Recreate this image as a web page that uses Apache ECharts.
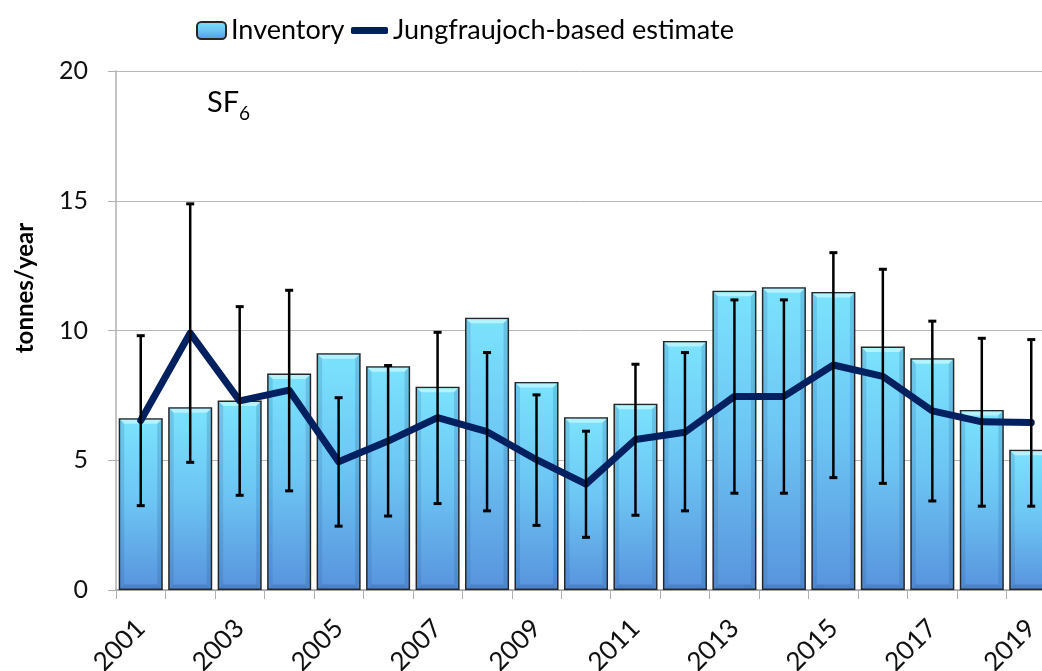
<!DOCTYPE html>
<html>
<head>
<meta charset="utf-8">
<script src="https://cdn.jsdelivr.net/npm/echarts@6/dist/echarts.min.js"></script>
<style>
  html, body { margin: 0; padding: 0; background: #ffffff; }
  #chart { width: 1042px; height: 671px; }
</style>
</head>
<body>
<div id="chart"></div>
<script>
// SF6 emissions (tonnes/year): reported inventory vs. Jungfraujoch-based estimate
const years = ['2001', '2002', '2003', '2004', '2005', '2006', '2007', '2008', '2009', '2010',
               '2011', '2012', '2013', '2014', '2015', '2016', '2017', '2018', '2019'];
const inventory = [6.62, 7.04, 7.30, 8.34, 9.12, 8.62, 7.83, 10.49, 8.02, 6.66,
                   7.18, 9.60, 11.53, 11.67, 11.48, 9.38, 8.93, 6.94, 5.40];
const estimate = [6.53, 9.90, 7.29, 7.70, 4.94, 5.74, 6.64, 6.10, 5.02, 4.08,
                  5.80, 6.08, 7.46, 7.46, 8.67, 8.23, 6.90, 6.48, 6.45];
const estimateLow = [3.25, 4.92, 3.65, 3.82, 2.46, 2.85, 3.33, 3.05, 2.49, 2.03,
                     2.88, 3.05, 3.73, 3.73, 4.33, 4.11, 3.43, 3.23, 3.23];
const estimateHigh = [9.80, 14.88, 10.92, 11.55, 7.41, 8.65, 9.93, 9.15, 7.52, 6.12,
                      8.70, 9.15, 11.18, 11.18, 13.00, 12.36, 10.36, 9.70, 9.65];
const yTicks = { min: 0, max: 20, step: 5 };

const FONT = 'Lato';
const BAR_FRACTION = 0.89;

const barFill = new echarts.graphic.LinearGradient(0, 0, 0, 1, [
  { offset: 0, color: '#7be3fd' },
  { offset: 0.5, color: '#6cc4f3' },
  { offset: 1, color: '#5893dd' }
]);

const chart = echarts.init(document.getElementById('chart'), null, { renderer: 'canvas' });

chart.setOption({
  animation: false,
  backgroundColor: '#ffffff',
  grid: { left: 116, top: 71, width: 940, height: 519, containLabel: false, outerBoundsMode: 'none' },
  legend: [
    {
      data: ['Inventory'],
      left: 196, top: 17, padding: 0,
      itemWidth: 29, itemHeight: 17,
      textStyle: { fontFamily: FONT, fontSize: 27, color: '#000' },
      selectedMode: false
    },
    {
      data: [{ name: 'Jungfraujoch-based estimate', icon: 'roundRect' }],
      left: 351, top: 17, padding: 0,
      itemWidth: 37, itemHeight: 7,
      itemStyle: { color: '#002060', borderWidth: 0 },
      textStyle: { fontFamily: FONT, fontSize: 27, color: '#000' },
      selectedMode: false
    }
  ],
  xAxis: {
    type: 'category',
    data: years,
    boundaryGap: true,
    axisLine: { lineStyle: { color: '#a0a0a0', width: 1.5 } },
    axisTick: { show: true, interval: 0, length: 9, lineStyle: { color: '#b0b0b0', width: 1 } },
    axisLabel: {
      interval: 1, rotate: 45, margin: 34,
      fontFamily: FONT, fontSize: 26, color: '#111'
    },
    splitLine: { show: false }
  },
  yAxis: {
    type: 'value',
    min: yTicks.min, max: yTicks.max, interval: yTicks.step,
    axisLine: { show: true, lineStyle: { color: '#b0b0b0', width: 1.5 } },
    axisTick: { show: true, length: 8, lineStyle: { color: '#b0b0b0', width: 1 } },
    axisLabel: { margin: 28, fontFamily: FONT, fontSize: 25, color: '#111' },
    splitLine: { show: true, lineStyle: { color: '#b8b8b8', width: 1 } }
  },
  graphic: [
    {
      type: 'text', x: 25, y: 288, rotation: Math.PI / 2,
      style: { text: 'tonnes/year', font: 'bold 24px Lato', fill: '#000', align: 'center', verticalAlign: 'middle' }
    },
    {
      type: 'group', left: 207, top: 88,
      children: [
        { type: 'text', x: 0, y: 0, style: { text: 'SF', font: '29px Lato', fill: '#000' } },
        { type: 'text', x: 32, y: 16, style: { text: '6', font: '19px Lato', fill: '#000' } }
      ]
    }
  ],
  series: [
    {
      name: 'Inventory',
      type: 'bar',
      data: inventory,
      barWidth: (BAR_FRACTION * 100) + '%',
      itemStyle: { color: barFill, borderColor: '#262626', borderWidth: 1.5 },
      z: 2
    },
    {
      // bevel shading on top of each inventory bar
      type: 'custom',
      data: inventory.map((v, i) => [i, v]),
      encode: { x: 0, y: 1 },
      silent: true,
      z: 3,
      renderItem(params, api) {
        const i = api.value(0);
        const top = api.coord([i, api.value(1)]);
        const bottom = api.coord([i, 0]);
        const w = api.size([1, 0])[0] * BAR_FRACTION;
        const x0 = top[0] - w / 2 + 1.5, x1 = top[0] + w / 2 - 1.5;
        const y0 = top[1] + 1.5, y1 = bottom[1] - 1.5;
        const b = 4;
        return {
          type: 'group',
          children: [
            { type: 'polygon', shape: { points: [[x0, y0], [x1, y0], [x1 - b, y0 + b], [x0 + b, y0 + b]] },
              style: { fill: 'rgba(190,245,255,0.85)' } },
            { type: 'polygon', shape: { points: [[x0, y0], [x0 + b, y0 + b], [x0 + b, y1 - b], [x0, y1]] },
              style: { fill: 'rgba(40,90,150,0.18)' } },
            { type: 'polygon', shape: { points: [[x1, y0], [x1 - b, y0 + b], [x1 - b, y1 - b], [x1, y1]] },
              style: { fill: 'rgba(40,90,150,0.22)' } },
            { type: 'polygon', shape: { points: [[x0, y1], [x0 + b, y1 - b], [x1 - b, y1 - b], [x1, y1]] },
              style: { fill: 'rgba(30,70,130,0.25)' } }
          ]
        };
      }
    },
    {
      name: 'Jungfraujoch-based estimate',
      type: 'line',
      data: estimate,
      symbol: 'none',
      lineStyle: { color: '#002060', width: 7, join: 'round', cap: 'round' },
      itemStyle: { color: '#002060' },
      z: 4
    },
    {
      // uncertainty range of the estimate
      type: 'custom',
      data: years.map((y, i) => [i, estimateLow[i], estimateHigh[i]]),
      encode: { x: 0, y: [1, 2] },
      silent: true,
      z: 5,
      renderItem(params, api) {
        const i = api.value(0);
        const lo = api.coord([i, api.value(1)]);
        const hi = api.coord([i, api.value(2)]);
        const cap = 4;
        const stem = { stroke: '#000', lineWidth: 2.5 };
        const capStyle = { stroke: '#000', lineWidth: 3 };
        return {
          type: 'group',
          children: [
            { type: 'line', shape: { x1: lo[0], y1: lo[1], x2: hi[0], y2: hi[1] }, style: stem },
            { type: 'line', shape: { x1: lo[0] - cap, y1: lo[1], x2: lo[0] + cap, y2: lo[1] }, style: capStyle },
            { type: 'line', shape: { x1: hi[0] - cap, y1: hi[1], x2: hi[0] + cap, y2: hi[1] }, style: capStyle }
          ]
        };
      }
    }
  ]
});
</script>
</body>
</html>
